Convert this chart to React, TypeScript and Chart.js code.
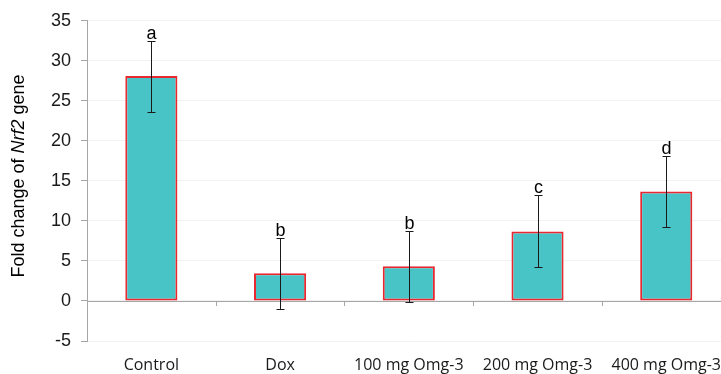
import React, { useEffect, useRef } from "react";
import { Chart, registerables } from "chart.js";

Chart.register(...registerables);

const categories = ["Control", "Dox", "100 mg Omg-3", "200 mg Omg-3", "400 mg Omg-3"];
const foldChange = [28.1, 3.45, 4.33, 8.67, 13.67];
const errLow = [23.6, -1.05, -0.15, 4.2, 9.2];
const errHigh = [32.5, 7.9, 8.8, 13.2, 18.1];
const letters = ["a", "b", "b", "c", "d"];
const yTicks = { min: -5, max: 35, step: 5 };

const annotatePlugin = {
  id: "annotate",
  beforeDatasetsDraw(chart: any) {
    const { ctx, chartArea, scales } = chart;
    const y0 = scales.y.getPixelForValue(0);
    ctx.save();
    ctx.strokeStyle = "#a6a6a6";
    ctx.lineWidth = 1;
    ctx.beginPath();
    ctx.moveTo(chartArea.left, Math.round(y0) + 0.5);
    ctx.lineTo(chartArea.right, Math.round(y0) + 0.5);
    const n = categories.length;
    const w = (chartArea.right - chartArea.left) / n;
    for (let i = 1; i < n; i++) {
      const x = Math.round(chartArea.left + i * w) + 0.5;
      ctx.moveTo(x, Math.round(y0));
      ctx.lineTo(x, Math.round(y0) + 5);
    }
    ctx.stroke();
    ctx.restore();
  },
  afterDatasetsDraw(chart: any) {
    const { ctx, scales } = chart;
    const meta = chart.getDatasetMeta(0);
    ctx.save();
    ctx.strokeStyle = "#1a1a1a";
    ctx.lineWidth = 1;
    meta.data.forEach((bar: any, i: number) => {
      const x = Math.round(bar.x) + 0.5;
      const yt = Math.round(scales.y.getPixelForValue(errHigh[i])) + 0.5;
      const yb = Math.round(scales.y.getPixelForValue(errLow[i])) + 0.5;
      ctx.beginPath();
      ctx.moveTo(x, yt);
      ctx.lineTo(x, yb);
      ctx.moveTo(x - 4, yt);
      ctx.lineTo(x + 4, yt);
      ctx.moveTo(x - 4, yb);
      ctx.lineTo(x + 4, yb);
      ctx.stroke();
      ctx.fillStyle = "#000";
      ctx.font = "18px 'Liberation Sans', Arial, sans-serif";
      ctx.textAlign = "center";
      ctx.textBaseline = "alphabetic";
      ctx.fillText(letters[i], x, yt - 3);
    });
    // y title with italic gene name
    const parts = [
      { t: "Fold change of ", f: "18px 'Liberation Sans', Arial, sans-serif" },
      { t: "Nrf2", f: "italic 18px 'Liberation Sans', Arial, sans-serif" },
      { t: " gene", f: "18px 'Liberation Sans', Arial, sans-serif" },
    ];
    let total = 0;
    const widths = parts.map((p) => {
      ctx.font = p.f;
      const wd = ctx.measureText(p.t).width;
      total += wd;
      return wd;
    });
    ctx.translate(19, 176);
    ctx.rotate(-Math.PI / 2);
    ctx.textAlign = "left";
    ctx.textBaseline = "middle";
    ctx.fillStyle = "#000";
    let cx = -total / 2;
    parts.forEach((p, i) => {
      ctx.font = p.f;
      ctx.fillText(p.t, cx, 0);
      cx += widths[i];
    });
    ctx.restore();
  },
};

export default function App() {
  const ref = useRef<HTMLCanvasElement>(null);
  useEffect(() => {
    if (!ref.current) return;
    const chart = new Chart(ref.current, {
      type: "bar",
      data: {
        labels: categories,
        datasets: [
          {
            data: foldChange,
            backgroundColor: "#48c3c6",
            borderColor: "#e8272f",
            borderWidth: 2,
            borderSkipped: false,
            categoryPercentage: 1,
            barPercentage: 0.405,
          },
        ],
      },
      options: {
        animation: false,
        responsive: true,
        maintainAspectRatio: false,
        layout: { padding: { top: 12, right: 0, left: 0, bottom: 0 } },
        plugins: { legend: { display: false }, tooltip: { enabled: false } },
        scales: {
          x: {
            grid: { display: false, drawTicks: false },
            border: { display: false },
            ticks: {
              color: "#1a1a1a",
              padding: 15,
              font: { size: 16, family: "'Open Sans', sans-serif" },
            },
            afterFit: (s: any) => {
              s.height = 33;
            },
          },
          y: {
            min: yTicks.min,
            max: yTicks.max,
            ticks: {
              stepSize: yTicks.step,
              color: "#1a1a1a",
              padding: 10,
              font: { size: 18, family: "'Liberation Sans', Arial, sans-serif" },
            },
            grid: { color: "#f2f2f2", tickColor: "#a6a6a6", tickLength: 6 },
            border: { color: "#a6a6a6" },
            afterFit: (s: any) => {
              s.width = 87;
            },
          },
        },
      },
      plugins: [annotatePlugin],
    });
    return () => chart.destroy();
  }, []);
  return (
    <div style={{ position: "fixed", left: 0, top: 0, width: 721, height: 374, overflow: "hidden", background: "#fff" }}>
      <div style={{ width: 736, height: 374, position: "relative" }}>
        <canvas ref={ref} />
      </div>
    </div>
  );
}
